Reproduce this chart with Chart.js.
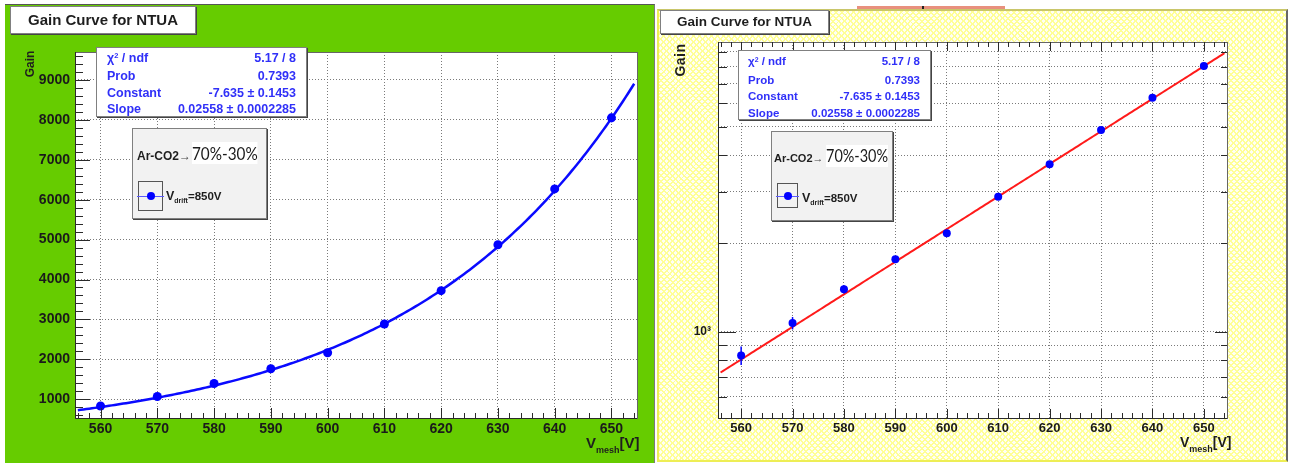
<!DOCTYPE html>
<html>
<head>
<meta charset="utf-8">
<script src="https://cdn.jsdelivr.net/npm/chart.js@4.4.0/dist/chart.umd.min.js"></script>
<style>
  body { margin: 0; width: 1292px; height: 463px; background: #fff; position: relative; overflow: hidden;
         font-family: "Liberation Sans", Arial, sans-serif; }
  .abs { position: absolute; }
  canvas { position: absolute; }
  #panelL { left: 5px; top: 4px; width: 650px; height: 459px; box-sizing: border-box; background: #66cc00;
            border-top: 1px solid #555; border-right: 1px solid #7a7a7a; }
  #panelR { left: 657px; top: 9px; width: 631px; height: 453px; box-sizing: border-box;
            border: 2px solid #eeee55; border-top-color: #c9c66a; border-right-color: #666;
            background-color: #fffff4;
            background-image: repeating-linear-gradient(45deg, #ffff96 0 1.4px, transparent 1.4px 4.2px),
                              repeating-linear-gradient(-45deg, #ffff96 0 1.4px, transparent 1.4px 4.2px); }
  .pave { position: absolute; background: #fff; border: 1px solid #808080; box-shadow: 1px 1px 0 #444; box-sizing: border-box; }
  .title { font-weight: bold; color: #1e1e1e; text-align: center; }
  .stats { color: #3030f8; font-weight: bold; }
  .stats .row { display: flex; justify-content: space-between; white-space: nowrap; }
  .sup { font-size: 0.6em; position: relative; top: -0.5em; }
  .ytitle { font-weight: bold; color: #1e1e1e; transform: rotate(-90deg); transform-origin: center; white-space: nowrap; }
  .xtitle { font-weight: bold; color: #1e1e1e; white-space: nowrap; }
  .sub { font-size: 9px; position: relative; top: 5px; }
  .leg { background: #f2f2f2; }
  .gas b { font-weight: bold; color: #1e1e1e; }
  .gas .arr { color: #444; }
  .pct { display: inline-block; font-family: Lato, "Open Sans", sans-serif; color: #1a1a1a; background: #fff;
         transform: scaleX(0.85); transform-origin: left center; }
  .mk { position: absolute; border: 1px solid #555; box-sizing: border-box; }
  .mk .ln { position: absolute; left: -2px; right: -2px; top: 50%; height: 1px; background: #5a5aff; }
  .mk .dot { position: absolute; left: 50%; top: 50%; width: 8px; height: 8px; margin: -4px 0 0 -4px;
             border-radius: 50%; background: #0000ff; }
  .vd { font-weight: bold; color: #1e1e1e; white-space: nowrap; }
</style>
</head>
<body>
<div id="panelL" class="abs"></div>
<div id="panelR" class="abs"></div>
<div class="abs" style="left:857px;top:6px;width:148px;height:3px;background:#e8907e"></div>
<div class="abs" style="left:922px;top:6px;width:2px;height:3px;background:#222"></div>

<canvas id="linChart" width="649" height="458" style="left:5px;top:5px;width:649px;height:458px"></canvas>
<canvas id="logChart" width="629" height="451" style="left:658px;top:10px;width:629px;height:451px"></canvas>

<!-- linear panel annotations -->
<div class="pave title" style="left:10px;top:6px;width:186px;height:28px;font-size:15px;line-height:26px">Gain Curve for NTUA</div>
<div class="abs ytitle" style="left:10px;top:56px;width:40px;height:16px;font-size:12px;line-height:16px;text-align:center">Gain</div>
<div class="pave stats" style="left:96px;top:47px;width:211px;height:70px;font-size:12.5px;line-height:16.3px;padding:2px 10px 0 10px">
  <div class="row"><span>χ<span class="sup">2</span> / ndf</span><span>5.17 / 8</span></div>
  <div class="row"><span>Prob</span><span>0.7393</span></div>
  <div class="row"><span>Constant</span><span>-7.635 ± 0.1453</span></div>
  <div class="row"><span>Slope</span><span>0.02558 ± 0.0002285</span></div>
</div>
<div class="pave leg" style="left:132px;top:128px;width:135px;height:91px">
  <div class="abs gas" style="left:4px;top:13px;white-space:nowrap;line-height:22px"><b style="font-size:12px">Ar-CO2</b><span class="arr" style="font-size:12px">→</span> <span class="pct" style="font-size:18px;margin-left:-3px">70%-30%</span></div>
  <div class="mk" style="left:5px;top:52px;width:25px;height:30px"><div class="ln"></div><div class="dot"></div></div>
  <div class="abs vd" style="left:33px;top:58px;line-height:16px"><span style="font-size:12.5px">V</span><span class="sub" style="font-size:7px;top:3px">drift</span><span style="font-size:11.5px">=850V</span></div>
</div>
<div class="abs xtitle" style="left:586px;top:433px;font-size:15px;line-height:20px">V<span class="sub">mesh</span>[V]</div>

<!-- log panel annotations -->
<div class="pave title" style="left:660px;top:10px;width:169px;height:24px;font-size:13.5px;line-height:22px">Gain Curve for NTUA</div>
<div class="abs ytitle" style="left:658px;top:51px;width:44px;height:18px;font-size:14px;line-height:18px;text-align:center;letter-spacing:0.5px">Gain</div>
<div class="pave stats" style="left:738px;top:50px;width:193px;height:70px;font-size:11.5px;line-height:16.7px;padding:2px 10px 0 9px">
  <div class="row"><span>χ<span class="sup">2</span> / ndf</span><span>5.17 / 8</span></div>
  <div class="row"><span>Prob</span><span>0.7393</span></div>
  <div class="row"><span>Constant</span><span>-7.635 ± 0.1453</span></div>
  <div class="row"><span>Slope</span><span>0.02558 ± 0.0002285</span></div>
</div>
<div class="pave leg" style="left:771px;top:131px;width:122px;height:90px">
  <div class="abs gas" style="left:2px;top:13px;white-space:nowrap;line-height:22px"><b style="font-size:11px">Ar-CO2</b><span class="arr" style="font-size:11px">→</span> <span class="pct" style="font-size:17px;margin-left:-2px">70%-30%</span></div>
  <div class="mk" style="left:5px;top:51px;width:21px;height:25px"><div class="ln"></div><div class="dot"></div></div>
  <div class="abs vd" style="left:30px;top:57px;line-height:16px"><span style="font-size:12.5px">V</span><span class="sub" style="font-size:7px;top:3px">drift</span><span style="font-size:11.5px">=850V</span></div>
</div>
<div class="abs xtitle" style="left:1180px;top:432px;font-size:14px;line-height:20px">V<span class="sub">mesh</span>[V]</div>

<script>
// mesh voltage (V) and measured gain
const vMesh = [560, 570, 580, 590, 600, 610, 620, 630, 640, 650];
const gain = [830, 1070, 1395, 1765, 2165, 2885, 3720, 4870, 6270, 8050];
const gainErr = [60, 52, 45, 45, 50, 60, 70, 85, 95, 110];

// exponential fit parameters: gain = exp(Constant + Slope * V)
const fitConstant = -7.635;
const fitSlope = 0.02558;

const xTicks = [560, 570, 580, 590, 600, 610, 620, 630, 640, 650];
const yTicksLinear = [1000, 2000, 3000, 4000, 5000, 6000, 7000, 8000, 9000];
const yTicksLog = [600, 700, 800, 900, 1000, 2000, 3000, 4000, 5000, 6000, 7000, 8000, 9000];

const xMin = 555.5, xMax = 654.5;

function fitCurve(from, to) {
  const pts = [];
  for (let v = from; v <= to + 1e-9; v += 0.5) {
    pts.push({ x: v, y: Math.exp(fitConstant + fitSlope * v) });
  }
  return pts;
}

function steps(from, to, step, skipEvery) {
  const out = [];
  for (let v = from; v <= to + 1e-9; v += step) {
    if (skipEvery && Math.abs(v % skipEvery) < 1e-9) continue;
    out.push(v);
  }
  return out;
}

const measured = vMesh.map((v, i) => ({ x: v, y: gain[i] }));

// ROOT-like frame: white pad, inward tick marks, error bars
const rootFrame = {
  id: 'rootFrame',
  beforeDraw(chart) {
    const a = chart.chartArea, ctx = chart.ctx;
    ctx.save();
    ctx.fillStyle = '#ffffff';
    ctx.fillRect(a.left, a.top, a.right - a.left, a.bottom - a.top);
    ctx.restore();
  },
  afterDatasetsDraw(chart) {
    const meta = chart.getDatasetMeta(0);
    const ys = chart.scales.y, ctx = chart.ctx;
    ctx.save();
    ctx.strokeStyle = '#0000ff';
    ctx.lineWidth = 1.5;
    meta.data.forEach((pt, i) => {
      ctx.beginPath();
      ctx.moveTo(pt.x, ys.getPixelForValue(gain[i] - gainErr[i]));
      ctx.lineTo(pt.x, ys.getPixelForValue(gain[i] + gainErr[i]));
      ctx.stroke();
    });
    ctx.restore();
  },
  afterDraw(chart, args, opts) {
    const a = chart.chartArea, ctx = chart.ctx;
    ctx.save();
    ctx.lineWidth = 1;
    ctx.strokeStyle = '#666';
    ctx.strokeRect(Math.round(a.left) + 0.5, Math.round(a.top) + 0.5,
                   Math.round(a.right - a.left), Math.round(a.bottom - a.top));
    ctx.strokeStyle = '#2a2a2a';
    ctx.beginPath();
    ctx.moveTo(Math.round(a.left) + 0.5, a.top);
    ctx.lineTo(Math.round(a.left) + 0.5, Math.round(a.bottom) + 0.5);
    ctx.lineTo(a.right, Math.round(a.bottom) + 0.5);
    ctx.stroke();
    (opts.marks || []).forEach(t => {
      const scale = chart.scales[t.axis];
      ctx.beginPath();
      t.values.forEach(v => {
        const p = Math.round(scale.getPixelForValue(v)) + 0.5;
        if (t.side === 'bottom') { ctx.moveTo(p, a.bottom); ctx.lineTo(p, a.bottom - t.len); }
        else if (t.side === 'top') { ctx.moveTo(p, a.top); ctx.lineTo(p, a.top + t.len); }
        else if (t.side === 'left') { ctx.moveTo(a.left, p); ctx.lineTo(a.left + t.len, p); }
        else { ctx.moveTo(a.right, p); ctx.lineTo(a.right - t.len, p); }
      });
      ctx.stroke();
    });
    ctx.restore();
  }
};

const tickFont = (size) => ({ family: 'Liberation Sans', size: size, weight: 'bold' });
const gridStyle = { color: '#7a7a7a', lineWidth: 1, drawTicks: false };
const xMinor = steps(556, 654, 2, 10);

function makeChart(id, cfg) {
  return new Chart(document.getElementById(id), {
    type: 'scatter',
    data: {
      datasets: [
        {
          label: 'Vdrift=850V',
          data: measured,
          backgroundColor: '#0000ff',
          borderColor: '#0000ff',
          pointRadius: cfg.pointRadius,
          borderWidth: 0
        },
        {
          label: 'fit',
          data: fitCurve(556, 654),
          showLine: true,
          borderColor: cfg.lineColor,
          borderWidth: cfg.lineWidth,
          pointRadius: 0,
          tension: 0
        }
      ]
    },
    options: {
      responsive: false,
      devicePixelRatio: 1,
      animation: false,
      events: [],
      layout: { padding: cfg.padding },
      plugins: {
        legend: { display: false },
        tooltip: { enabled: false },
        rootFrame: { marks: cfg.marks }
      },
      scales: {
        x: {
          type: 'linear',
          min: xMin,
          max: xMax,
          afterBuildTicks: s => { s.ticks = xTicks.map(v => ({ value: v })); },
          afterFit: s => { s.height = cfg.xHeight; },
          grid: gridStyle,
          border: { display: false, dash: [1, 2] },
          ticks: {
            font: tickFont(cfg.xFont),
            color: '#1a1a1a',
            padding: cfg.xPad,
            maxRotation: 0,
            autoSkip: false,
            callback: v => String(v)
          }
        },
        y: cfg.y
      }
    },
    plugins: [rootFrame]
  });
}

makeChart('linChart', {
  pointRadius: 4.5,
  lineColor: '#0a0aff',
  lineWidth: 2.5,
  padding: { left: 0, top: 47, right: 17, bottom: 0 },
  xHeight: 45,
  xFont: 14,
  xPad: 3,
  marks: [
    { axis: 'x', side: 'bottom', values: xTicks, len: 10 },
    { axis: 'x', side: 'bottom', values: xMinor, len: 5 },
    { axis: 'y', side: 'left', values: yTicksLinear, len: 15 },
    { axis: 'y', side: 'left', values: steps(600, 9600, 200, 1000), len: 8 }
  ],
  y: {
    type: 'linear',
    min: 530,
    max: 9700,
    afterBuildTicks: s => { s.ticks = yTicksLinear.map(v => ({ value: v })); },
    afterFit: s => { s.width = 70; },
    grid: gridStyle,
    border: { display: false, dash: [1, 2] },
    ticks: { font: tickFont(14), color: '#1a1a1a', padding: 5, autoSkip: false, callback: v => String(v) }
  }
});

makeChart('logChart', {
  pointRadius: 4,
  lineColor: '#ff1a1a',
  lineWidth: 2,
  padding: { left: 0, top: 32, right: 60, bottom: 0 },
  xHeight: 43,
  xFont: 13,
  xPad: 3,
  marks: [
    { axis: 'x', side: 'bottom', values: xTicks, len: 9 },
    { axis: 'x', side: 'bottom', values: xMinor, len: 5 },
    { axis: 'x', side: 'top', values: xTicks, len: 9 },
    { axis: 'x', side: 'top', values: xMinor, len: 5 },
    { axis: 'y', side: 'left', values: [1000], len: 18 },
    { axis: 'y', side: 'left', values: yTicksLog.filter(v => v !== 1000), len: 9 },
    { axis: 'y', side: 'right', values: [1000], len: 12 },
    { axis: 'y', side: 'right', values: yTicksLog.filter(v => v !== 1000), len: 6 }
  ],
  y: {
    type: 'logarithmic',
    min: 508,
    max: 9720,
    afterBuildTicks: s => { s.ticks = yTicksLog.map(v => ({ value: v })); },
    afterFit: s => { s.width = 60; },
    grid: gridStyle,
    border: { display: false, dash: [1, 2] },
    ticks: {
      font: tickFont(12),
      color: '#1a1a1a',
      padding: 7,
      autoSkip: false,
      callback: v => (v === 1000 ? '10³' : '')
    }
  }
});
</script>
</body>
</html>
